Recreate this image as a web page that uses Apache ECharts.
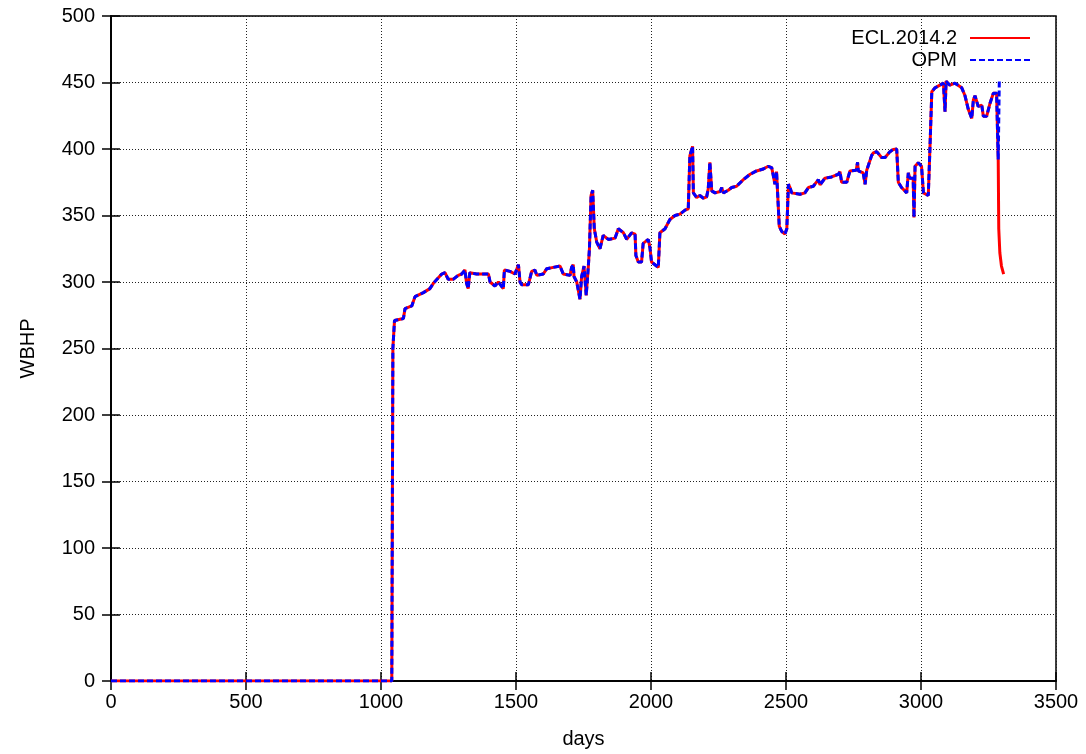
<!DOCTYPE html>
<html>
<head>
<meta charset="utf-8">
<script src="https://cdn.jsdelivr.net/npm/echarts@6/dist/echarts.min.js"></script>
<style>html,body{margin:0;padding:0;background:#fff}#c{width:1086px;height:754px}</style>
</head>
<body>
<div id="c"></div>
<script>
// shared readings (both simulations overlap)
const baseDays = [0,1040,1044,1046,1050,1083,1089,1114,1126,1157,1181,1194,1225,1237,1249,1267,1286,1299,1311,1317,1323,1329,1354,1373,1398,1404,1422,1435,1453,1457,1478,1496,1509,1515,1521,1546,1552,1558,1570,1577,1601,1614,1638,1663,1675,1700,1706,1712,1715,1725,1737,1743,1752,1760,1768,1772,1778,1784,1790,1799,1811,1823,1842,1867,1879,1898,1910,1928,1941,1944,1953,1965,1971,1990,1996,2002,2027,2033,2052,2070,2089,2107,2126,2138,2144,2154,2157,2169,2181,2187,2194,2206,2212,2218,2225,2237,2256,2262,2268,2286,2299,2317,2342,2367,2391,2416,2434,2447,2453,2459,2465,2472,2475,2484,2496,2503,2509,2515,2521,2552,2570,2583,2601,2620,2626,2644,2669,2694,2700,2706,2725,2737,2760,2765,2768,2786,2793,2799,2817,2823,2836,2842,2854,2867,2885,2897,2910,2916,2928,2947,2953,2959,2971,2974,2978,2990,3002,3009,3027,3033,3040,3052,3070,3083,3089,3093,3107,3126,3151,3163,3175,3188,3194,3200,3212,3225,3231,3243,3256,3268,3280,3286];
const baseWBHP = [0,0,250,257,271,272.5,280,282,289,292,295,299,306,307,302,302,305,306,309,299,295,307,306,306,306,300,297,300,295,309,308,306,313,300,298,298,303,308,309,305,306,310,311,312,306,305,311,313,304,300,287,304,312,290,312,325,365,369,340,330,325,335,332,333,340,337,332,337,336,320,315,315,329,332,326,315,311,337,340,347,350,351,354,355,395,402,367,363.5,365,366,363,364,370,390,368.5,367,368,371,367,369,371,372,377,381,383.5,385,387,386,380,373.5,383,384,342,338,336,340,373.5,371,367,366,367,371,372,377,373,378,379,381,383,375,375,383.5,384,390,383.5,382,373.5,384,395,397,398,397,393.6,393.6,398,399.7,400,375,371,367,382,378,378,348.5,387,389.7,387,367,365,400,443,446,448,449.5,428,451,448,449.5,446,440,430,423,437,440,432,433,424.6,424.6,434.6,442,442,392];
// tails where the two runs differ
const eclTailDays = [3288,3292,3298,3306];
const eclTailWBHP = [340,322,312,306];
const opmTailDays = [3290];
const opmTailWBHP = [451];
const xTicks = [0,500,1000,1500,2000,2500,3000,3500];
const yTicks = [0,50,100,150,200,250,300,350,400,450,500];

function pairs(d, v){ return d.map((x,i)=>[x, v[i]]); }
const eclData = pairs(baseDays.concat(eclTailDays), baseWBHP.concat(eclTailWBHP));
const opmData = pairs(baseDays.concat(opmTailDays), baseWBHP.concat(opmTailWBHP));

const font = 'Liberation Sans, Arial, sans-serif';
const fs = 20;
const gridLine = {show:true, lineStyle:{color:'#222', type:[1,2], width:1}};
const tick = {show:true, inside:true, length:9, lineStyle:{color:'#000', width:1.5}};
const line = {show:true, lineStyle:{color:'#000', width:1.5}};
const plain = v => String(v);
const chart = echarts.init(document.getElementById('c'));
chart.setOption({
  animation:false,
  backgroundColor:'#fff',
  grid:{left:111, right:30, top:16, bottom:70, show:true, borderColor:'#000', borderWidth:1.5},
  xAxis:[{
    type:'value', min:xTicks[0], max:xTicks[xTicks.length-1], interval:500,
    name:'days', nameLocation:'middle', nameGap:48,
    nameTextStyle:{fontFamily:font, fontSize:fs, color:'#000'},
    axisLine:line, axisTick:tick,
    axisLabel:{fontFamily:font, fontSize:fs, color:'#000', margin:11, formatter:plain},
    splitLine:gridLine
  },{
    type:'value', position:'top', min:xTicks[0], max:xTicks[xTicks.length-1], interval:500,
    axisLine:line, axisTick:tick,
    axisLabel:{show:false}, splitLine:{show:false}
  }],
  yAxis:[{
    type:'value', min:yTicks[0], max:yTicks[yTicks.length-1], interval:50,
    name:'WBHP', nameLocation:'middle', nameGap:73, nameRotate:90,
    nameTextStyle:{fontFamily:font, fontSize:fs, color:'#000'},
    axisLine:line, axisTick:tick,
    axisLabel:{fontFamily:font, fontSize:fs, color:'#000', margin:16, formatter:plain},
    splitLine:gridLine
  },{
    type:'value', position:'right', min:yTicks[0], max:yTicks[yTicks.length-1], interval:50,
    axisLine:line, axisTick:tick,
    axisLabel:{show:false}, splitLine:{show:false}
  }],
  legend:{
    orient:'vertical', right:50, top:23, align:'right',
    itemWidth:60, itemHeight:14, itemGap:2,
    itemStyle:{opacity:0},
    textStyle:{fontFamily:font, fontSize:fs, color:'#000', padding:[0,8,0,0]},
    data:['ECL.2014.2','OPM']
  },
  series:[
    {name:'ECL.2014.2', type:'line', data:eclData, symbol:'none', showSymbol:false,
     lineStyle:{color:'#ff0000', width:3}, itemStyle:{color:'#ff0000'}, z:2},
    {name:'OPM', type:'line', data:opmData, symbol:'none', showSymbol:false,
     lineStyle:{color:'#0000ff', width:3, type:[6,3]}, itemStyle:{color:'#0000ff'}, z:3}
  ]
});
</script>
</body>
</html>
